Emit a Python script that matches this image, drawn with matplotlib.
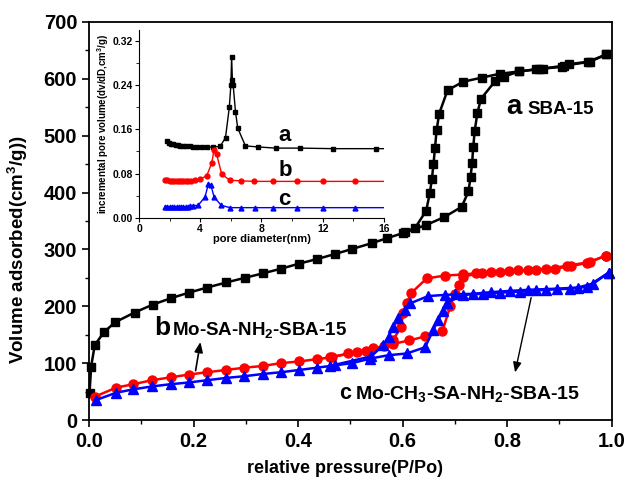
import matplotlib
matplotlib.use("Agg")
import matplotlib.pyplot as plt
from matplotlib.ticker import MultipleLocator

plt.rcParams['font.family'] = ['Liberation Sans', 'DejaVu Sans']
plt.rcParams['font.weight'] = 'bold'
plt.rcParams['mathtext.fontset'] = 'custom'
plt.rcParams['mathtext.rm'] = 'Liberation Sans:bold'
plt.rcParams['mathtext.bf'] = 'Liberation Sans:bold'
plt.rcParams['mathtext.it'] = 'Liberation Sans:bold'

# ---- main isotherms ----
a_ads_x = [0.001, 0.004, 0.011, 0.029, 0.05, 0.087, 0.122, 0.156, 0.191, 0.226, 0.263, 0.298, 0.333,
           0.367, 0.402, 0.436, 0.471, 0.504, 0.541, 0.571, 0.605, 0.645, 0.680, 0.713, 0.726, 0.730,
           0.733, 0.735, 0.738, 0.743, 0.750, 0.777, 0.794, 0.823, 0.856, 0.869, 0.904, 0.919, 0.955, 0.990]
a_ads_y = [47, 94, 132, 155, 172, 189, 203, 214, 224, 233, 242, 250, 258,
           266, 275, 283, 292, 301, 311, 320, 330, 343, 357, 375, 402, 428,
           452, 480, 509, 540, 565, 596, 604, 613, 617, 618, 621, 626, 630, 643]
a_des_x = [0.990, 0.958, 0.908, 0.860, 0.823, 0.786, 0.751, 0.716, 0.686, 0.670, 0.665, 0.662,
           0.659, 0.656, 0.652, 0.645, 0.624, 0.600]
a_des_y = [643, 630, 623, 617, 613, 609, 602, 595, 580, 539, 510, 479,
           450, 424, 399, 368, 338, 329]

b_ads_x = [0.011, 0.052, 0.085, 0.12, 0.156, 0.191, 0.226, 0.262, 0.297, 0.332, 0.367, 0.402, 0.436,
           0.461, 0.496, 0.544, 0.582, 0.613, 0.643, 0.676, 0.691, 0.700, 0.708, 0.715, 0.751, 0.786,
           0.821, 0.856, 0.892, 0.923, 0.952, 0.989]
b_ads_y = [41, 57, 63, 70, 75, 80, 84, 88, 92, 95, 100, 103, 107,
           110, 117, 126, 134, 140, 147, 156, 200, 222, 238, 252, 259, 261,
           263, 264, 266, 271, 276, 289]
b_des_x = [0.989, 0.958, 0.914, 0.875, 0.839, 0.804, 0.770, 0.740, 0.716, 0.681, 0.646, 0.616,
           0.608, 0.601, 0.597, 0.582, 0.565, 0.530, 0.512, 0.465]
b_des_y = [289, 278, 271, 266, 264, 262, 260, 258, 256, 254, 249, 223,
           205, 188, 164, 141, 130, 122, 119, 111]

c_ads_x = [0.013, 0.052, 0.085, 0.12, 0.156, 0.191, 0.226, 0.262, 0.297, 0.333, 0.367, 0.402, 0.436,
           0.461, 0.503, 0.538, 0.573, 0.608, 0.643, 0.659, 0.668, 0.677, 0.684, 0.716, 0.754, 0.786,
           0.825, 0.856, 0.875, 0.920, 0.952, 0.994]
c_ads_y = [35, 48, 54, 59, 63, 66, 70, 74, 77, 81, 84, 88, 92,
           95, 100, 108, 114, 117, 128, 159, 176, 192, 206, 220, 222, 224,
           226, 228, 229, 231, 234, 259]
c_des_x = [0.994, 0.965, 0.935, 0.895, 0.840, 0.805, 0.770, 0.735, 0.700, 0.681, 0.649, 0.614,
           0.605, 0.592, 0.582, 0.573, 0.563, 0.540, 0.470]
c_des_y = [259, 240, 233, 231, 229, 227, 225, 222, 221, 220, 218, 205,
           193, 179, 164, 146, 132, 112, 97]

# ---- inset pore size distributions ----
pa_x = [1.8, 1.95, 2.1, 2.25, 2.4, 2.55, 2.7, 2.9, 3.1, 3.3, 3.55, 3.8, 4.1, 4.45, 4.85, 5.3, 5.65,
        5.9, 6.0, 6.05, 6.1, 6.15, 6.3, 6.45, 6.95, 7.8, 8.95, 10.5, 12.7, 15.5, 18.0]
pa_y = [0.138, 0.136, 0.134, 0.133, 0.132, 0.131, 0.1305, 0.130, 0.129, 0.129, 0.128, 0.128, 0.128,
        0.128, 0.128, 0.129, 0.145, 0.200, 0.240, 0.290, 0.248, 0.240, 0.192, 0.162, 0.130, 0.128,
        0.126, 0.126, 0.125, 0.125, 0.125]
pb_x = [1.7, 1.85, 2.0, 2.15, 2.3, 2.45, 2.6, 2.75, 2.9, 3.05, 3.2, 3.4, 3.65, 3.98, 4.42, 4.75, 4.9,
        5.07, 5.4, 5.94, 6.64, 7.53, 8.73, 10.3, 12.0, 14.1, 18.0]
pb_y = [0.0686, 0.068, 0.0675, 0.067, 0.067, 0.067, 0.067, 0.067, 0.067, 0.067, 0.067, 0.067, 0.068,
        0.070, 0.076, 0.099, 0.123, 0.115, 0.079, 0.068, 0.067, 0.066, 0.066, 0.066, 0.066, 0.066, 0.066]
pc_x = [1.7, 1.85, 2.0, 2.15, 2.3, 2.45, 2.6, 2.75, 2.9, 3.05, 3.2, 3.35, 3.55, 3.87, 4.31, 4.53, 4.7,
        4.9, 5.36, 5.94, 6.66, 7.58, 8.73, 10.3, 12.0, 14.1, 18.0]
pc_y = [0.0204, 0.020, 0.020, 0.020, 0.020, 0.020, 0.020, 0.020, 0.020, 0.020, 0.020, 0.021, 0.022,
        0.023, 0.038, 0.061, 0.059, 0.038, 0.023, 0.0186, 0.0186, 0.0186, 0.0186, 0.0186, 0.0186,
        0.0186, 0.0186]

BLACK, RED, BLUE = '#000000', '#ff0000', '#0000ff'

fig = plt.figure(figsize=(6.27, 4.83), dpi=100)
ax = fig.add_axes([0.142, 0.1304, 0.8336, 0.8241])

kw = dict(lw=1.8, clip_on=False)
ax.plot(a_ads_x, a_ads_y, color=BLACK, marker='s', ms=6, **kw)
ax.plot(a_des_x, a_des_y, color=BLACK, marker='s', ms=6, **kw)
ax.plot(b_ads_x, b_ads_y, color=RED, marker='o', ms=6.5, **kw)
ax.plot(b_des_x, b_des_y, color=RED, marker='o', ms=6.5, **kw)
ax.plot(c_ads_x, c_ads_y, color=BLUE, marker='^', ms=6.5, **kw)
ax.plot(c_des_x, c_des_y, color=BLUE, marker='^', ms=6.5, **kw)

ax.set_xlim(0, 1.0)
ax.set_ylim(0, 700)
ax.xaxis.set_major_locator(MultipleLocator(0.2))
ax.xaxis.set_minor_locator(MultipleLocator(0.1))
ax.yaxis.set_major_locator(MultipleLocator(100))
ax.yaxis.set_minor_locator(MultipleLocator(50))
ax.tick_params(which='major', direction='out', length=5, width=1.2, labelsize=14.5)
ax.tick_params(which='minor', direction='out', length=3, width=1.0)
ax.tick_params(top=False, right=False)
ax.xaxis.set_major_formatter(matplotlib.ticker.FormatStrFormatter('%.1f'))
for lab in ax.get_xticklabels() + ax.get_yticklabels():
    lab.set_fontweight('bold')
for s in ax.spines.values():
    s.set_linewidth(1.3)

ax.set_xlabel('relative pressure(P/Po)', fontsize=13, fontweight='bold')
ax.set_ylabel(r'Volume adsorbed(cm$^\mathbf{3}$/g))', fontsize=13.5, fontweight='bold')
ax.xaxis.set_label_coords(0.49, -0.1)
ax.yaxis.set_label_coords(-0.113, 0.427)

# sample labels
ax.text(0.799, 538, 'a', fontsize=20, fontweight='bold', va='baseline')
ax.text(0.838, 538, 'SBA-15', fontsize=13.5, fontweight='bold', va='baseline')
ax.text(0.124, 149.5, 'b', fontsize=19, fontweight='bold', va='baseline')
ax.text(0.158, 149.5, r'Mo-SA-NH$_\mathbf{2}$-SBA-15', fontsize=13.5, fontweight='bold', va='baseline')
ax.text(0.478, 37, 'c', fontsize=15.5, fontweight='bold', va='baseline')
ax.text(0.508, 37, r'Mo-CH$_\mathbf{3}$-SA-NH$_\mathbf{2}$-SBA-15', fontsize=14, fontweight='bold', va='baseline')

ax.annotate('', xy=(0.214, 142), xytext=(0.203, 82),
            arrowprops=dict(arrowstyle='-|>,head_width=0.25,head_length=0.6', color='black', lw=1.2, mutation_scale=10))
ax.annotate('', xy=(0.814, 79), xytext=(0.847, 220),
            arrowprops=dict(arrowstyle='-|>,head_width=0.25,head_length=0.6', color='black', lw=1.0, mutation_scale=10))

# inset
ins = fig.add_axes([0.2217, 0.5487, 0.3907, 0.3892])
ins.patch.set_alpha(0)
ikw = dict(lw=1.0, ms=3.5)
ins.plot(pa_x, pa_y, color=BLACK, marker='s', **ikw)
ins.plot(pb_x, pb_y, color=RED, marker='o', **ikw)
ins.plot(pc_x, pc_y, color=BLUE, marker='^', **ikw)
ins.set_xlim(0, 16)
ins.set_ylim(0, 0.339)
ins.spines['top'].set_visible(False)
ins.spines['right'].set_visible(False)
ins.xaxis.set_major_locator(MultipleLocator(4))
ins.xaxis.set_minor_locator(MultipleLocator(2))
ins.yaxis.set_major_locator(MultipleLocator(0.08))
ins.yaxis.set_minor_locator(MultipleLocator(0.04))
ins.yaxis.set_major_formatter(matplotlib.ticker.FormatStrFormatter('%.2f'))
ins.tick_params(which='major', direction='out', length=3, width=0.8, labelsize=7.5, pad=1.5)
ins.tick_params(which='minor', direction='out', length=2, width=0.6)
for lab in ins.get_xticklabels() + ins.get_yticklabels():
    lab.set_fontweight('bold')
ins.set_xlabel('pore diameter(nm)', fontsize=8, fontweight='bold', labelpad=0)
ins.set_ylabel(r'incremental pore volume(dv/dD,cm$^\mathbf{3}$/g)', fontsize=7, fontweight='bold', labelpad=1)
ins.text(9.08, 0.138, 'a', fontsize=16, fontweight='bold', va='baseline')
ins.text(9.1, 0.076, 'b', fontsize=16, fontweight='bold', va='baseline')
ins.text(9.1, 0.023, 'c', fontsize=16, fontweight='bold', va='baseline')

fig.savefig('out.png', dpi=100)
